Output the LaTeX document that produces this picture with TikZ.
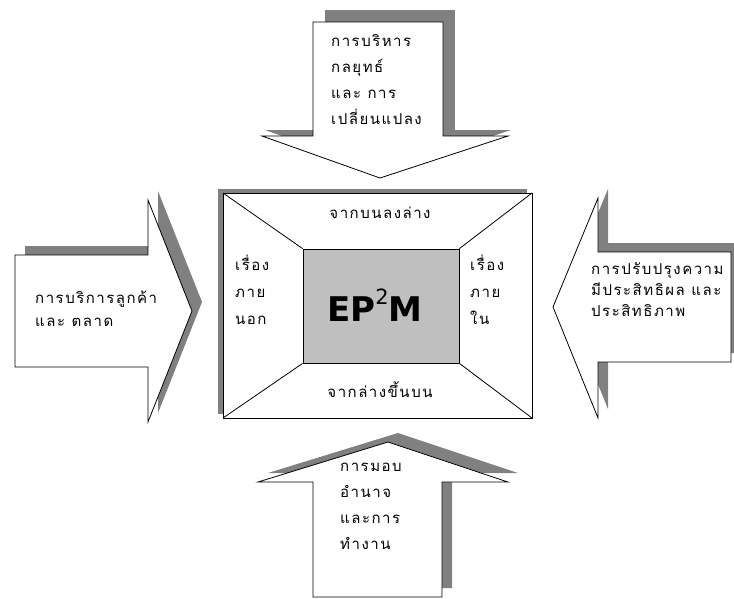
\documentclass[tikz,border=0pt]{standalone}
\usepackage{fontspec}
\newfontfamily\thaifont[Script=Thai,LetterSpace=10]{Loma}
\newfontfamily\corefont{DejaVu Sans}
\tikzset{
  shade3d/.style={fill=black!50, draw=none},
  arrowface/.style={fill=white, draw=black, line width=0.8pt, line join=miter},
  thaiblock/.style={font=\thaifont\fontsize{15}{26}\selectfont, align=left, inner sep=0pt},
  thailine/.style={font=\thaifont\fontsize{15}{16}\selectfont, inner sep=0pt},
}
\begin{document}
\begin{tikzpicture}[x=1pt,y=-1pt]
\useasboundingbox (0,0) rectangle (734,598);
\fill[white] (0,0) rectangle (734,598);

% ---- top arrow (pointing down)
\fill[shade3d] (325,10) rectangle (455,136);
\fill[shade3d] (265,130) -- (511,130) -- (383,172) -- cycle;
\draw[arrowface] (313,22) -- (443,22) -- (443,136) -- (508,136) -- (380,178)
  -- (262,136) -- (313,136) -- cycle;
\node[thaiblock, anchor=west] (topText) at (331,80)
  {การบริหาร\\กลยุทธ์\\และ การ\\เปลี่ยนแปลง};

% ---- left arrow (pointing right)
\fill[shade3d] (25,246) -- (158,246) -- (158,191) -- (202,302) -- (158,413)
  -- (158,358) -- (25,358) -- cycle;
\draw[arrowface] (15,255) -- (148,255) -- (148,200) -- (192,311) -- (148,422)
  -- (148,367) -- (15,367) -- cycle;
\node[thaiblock, anchor=west, font=\thaifont\fontsize{15}{23}\selectfont] (leftText) at (35,309)
  {การบริการลูกค้า\\และ ตลาด};

% ---- right arrow (pointing left)
\fill[shade3d] (741,243) -- (608,243) -- (608,189) -- (563,298) -- (608,409)
  -- (608,353) -- (741,353) -- cycle;
\draw[arrowface] (731,252) -- (598,252) -- (598,198) -- (553,307) -- (598,418)
  -- (598,362) -- (731,362) -- cycle;
\node[thaiblock, anchor=west, font=\thaifont\fontsize{15}{21}\selectfont] (rightText) at (591,290)
  {การปรับปรุงความ\\มีประสิทธิผล และ\\ประสิทธิภาพ};

% ---- bottom arrow (pointing up)
\fill[shade3d] (323,588) -- (323,473) -- (268,473) -- (398,433) -- (518,473)
  -- (452,473) -- (452,588) -- cycle;
\draw[arrowface] (313,597) -- (313,482) -- (258,482) -- (388,442) -- (508,482)
  -- (442,482) -- (442,597) -- cycle;
\node[thaiblock, anchor=west] (bottomText) at (340,506)
  {การมอบ\\อำนาจ\\และการ\\ทำงาน};

% ---- central frame
\fill[shade3d] (218,189) rectangle (527,414);
\draw[arrowface] (223,193) rectangle (532,418);
\coordinate (oTL) at (223,193);
\coordinate (oTR) at (532,193);
\coordinate (oBL) at (223,418);
\coordinate (oBR) at (532,418);
\node[draw=black, line width=0.8pt, fill=black!25, minimum width=156pt,
      minimum height=114pt, inner sep=0pt] (core) at (381,306) {};
\draw[line width=0.8pt] (oTL) -- (core.north west);
\draw[line width=0.8pt] (oTR) -- (core.north east);
\draw[line width=0.8pt] (oBL) -- (core.south west);
\draw[line width=0.8pt] (oBR) -- (core.south east);
\node[font=\corefont\bfseries\fontsize{34}{34}\selectfont, inner sep=0pt] (coreLabel) at (375,305)
  {EP\raisebox{0.5em}{\fontsize{21}{21}\selectfont\mdseries 2}M};

\node[thailine] (topDown) at (380,213) {จากบนลงล่าง};
\node[thailine] (bottomUp) at (380,390) {จากล่างขึ้นบน};
\node[thaiblock, anchor=west, font=\thaifont\fontsize{15}{27}\selectfont] (outerSide) at (235,290)
  {เรื่อง\\ภาย\\นอก};
\node[thaiblock, anchor=west, font=\thaifont\fontsize{15}{27}\selectfont] (innerSide) at (470,290)
  {เรื่อง\\ภาย\\ใน};
\end{tikzpicture}
\end{document}
